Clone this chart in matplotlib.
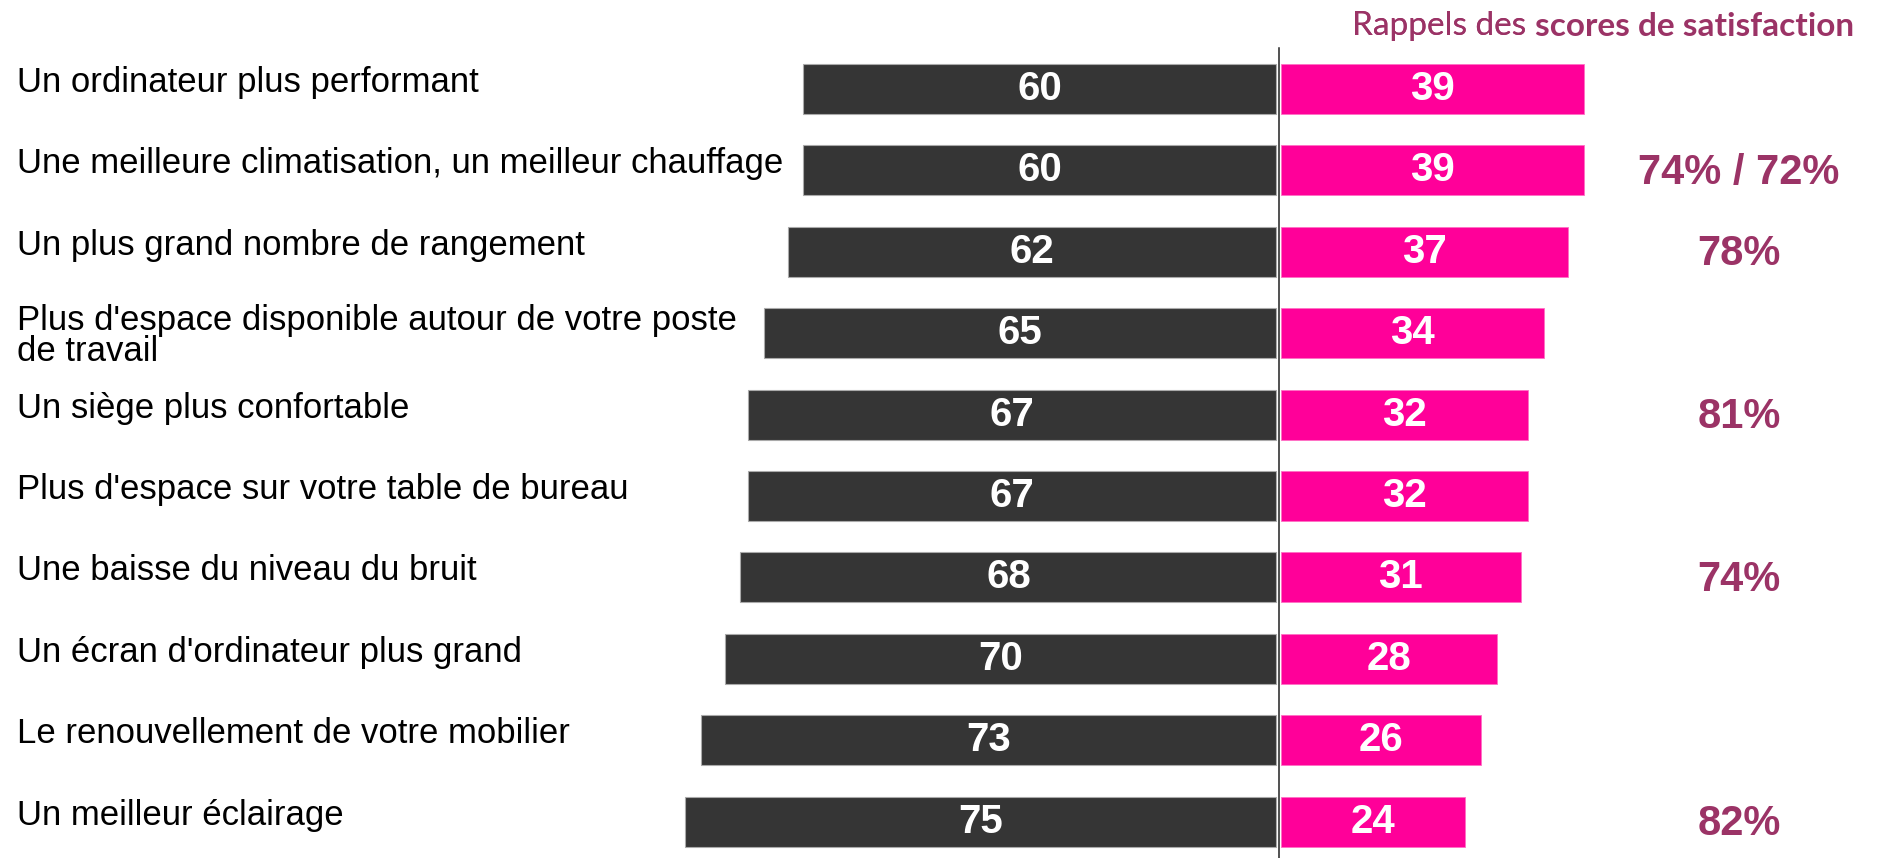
import matplotlib
matplotlib.use("Agg")
import matplotlib.pyplot as plt

CATEGORIES = [
    "Un ordinateur plus performant",
    "Une meilleure climatisation, un meilleur chauffage",
    "Un plus grand nombre de rangement",
    "Plus d'espace disponible autour de votre poste\nde travail",
    "Un siège plus confortable",
    "Plus d'espace sur votre table de bureau",
    "Une baisse du niveau du bruit",
    "Un écran d'ordinateur plus grand",
    "Le renouvellement de votre mobilier",
    "Un meilleur éclairage",
]
DARK_VALUES = [60, 60, 62, 65, 67, 67, 68, 70, 73, 75]
PINK_VALUES = [39, 39, 37, 34, 32, 32, 31, 28, 26, 24]
SATISFACTION = ["", "74% / 72%", "78%", "", "81%", "", "74%", "", "", "82%"]

DARK = "#353535"
PINK = "#FF0099"
PLUM = "#9B3366"

W, H, DPI = 1890, 858, 100
CENTER_PX = 1276.3
PX_PER_UNIT = 7.88
ROW0_PX = 89
ROW_PX = 81.4
PINK_START = 0.55  # small white gap after the axis line

fig = plt.figure(figsize=(W / DPI, H / DPI), dpi=DPI)
ax = fig.add_axes([0, 0, 1, 1])
ax.set_xlim(-CENTER_PX / PX_PER_UNIT, (W - CENTER_PX) / PX_PER_UNIT)
ax.set_ylim((H - ROW0_PX) / ROW_PX, -ROW0_PX / ROW_PX)
ax.axis("off")

ys = list(range(len(CATEGORIES)))
ax.barh(ys, [-v for v in DARK_VALUES], left=0, height=0.615,
        color=DARK, edgecolor="#AAAAAA", linewidth=0.8)
ax.barh(ys, [p - PINK_START for p in PINK_VALUES], left=PINK_START, height=0.615,
        color=PINK, edgecolor="#FF70C4", linewidth=0.6)

ax.plot([0.3, 0.3], [-0.5, (H - ROW0_PX) / ROW_PX], color="#222222", lw=1.1)

num_font = "Liberation Sans"
for y, d, p in zip(ys, DARK_VALUES, PINK_VALUES):
    ax.text(-d / 2, y, str(d), ha="center", va="center", color="white",
            fontsize=29, fontweight="bold", family=num_font)
    ax.text(PINK_START + (p - PINK_START) / 2, y, str(p), ha="center",
            va="center", color="white", fontsize=29, fontweight="bold",
            family=num_font)

ytr = ax.get_yaxis_transform()
for y, label in zip(ys, CATEGORIES):
    off = 0.03 if "\n" in label else -0.08
    ax.text(17 / W, y + off, label, transform=ytr, ha="left", va="center",
            fontsize=25, family="Liberation Sans", color="black",
            linespacing=0.93)

for y, s in zip(ys, SATISFACTION):
    if s:
        ax.text(1739 / W, y + 0.03, s, transform=ytr, ha="center", va="center",
                fontsize=30, fontweight="bold", family="Liberation Sans",
                color=PLUM)

bold = fig.text(1854 / W, 1 - 26 / H, "scores de satisfaction", ha="right",
                va="center", fontsize=24, fontweight="bold", family="Lato",
                color=PLUM)
fig.texts.append(ax.annotate("Rappels des ", xy=(0, 0.5), xycoords=bold,
                             ha="right", va="center", fontsize=24,
                             family="Lato", color=PLUM))

fig.savefig("out.png", dpi=DPI)
